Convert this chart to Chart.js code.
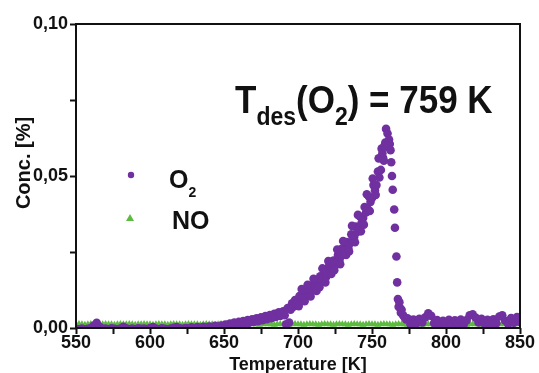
<!DOCTYPE html>
<html>
<head>
<meta charset="utf-8">
<script src="https://cdn.jsdelivr.net/npm/chart.js@4.4.1/dist/chart.umd.min.js"></script>
<style>
  html, body { margin: 0; padding: 0; background: #fff; }
</style>
</head>
<body>
<canvas id="tpd" width="539" height="373"></canvas>
<script>
// O2 desorption trace, concentration in %
const o2Temp = [
  550, 552, 554, 556, 558, 560, 562, 564, 566, 568,
  570, 572, 574, 576, 578, 580, 582, 584, 586, 588,
  590, 592, 594, 596, 598, 600, 602, 604, 606, 608,
  610, 612, 614, 616, 618, 620, 622, 624, 626, 628,
  630, 632, 634, 636, 638, 640, 642, 644, 646, 648,
  650, 651, 652, 653, 654, 655, 656, 657, 658, 659,
  660, 661, 662, 663, 664, 665, 666, 667, 668, 669,
  670, 671, 672, 673, 674, 675, 676, 677, 678, 679,
  680, 681, 682, 683, 684, 685, 686, 687, 688, 689,
  690, 691, 692, 693, 694, 695, 696, 697, 698, 699,
  700, 701, 702, 703, 704, 705, 706, 707, 708, 709,
  710, 711, 712, 713, 714, 715, 716, 717, 718, 719,
  720, 721, 722, 723, 724, 725, 726, 727, 728, 729,
  730, 731, 732, 733, 734, 735, 736, 737, 738, 739,
  740, 741, 742, 743, 744, 745, 746, 747, 748, 749,
  750, 751, 752, 753, 754, 755, 756, 757, 758, 759,
  759.5, 760, 760.5, 761, 761.5, 762, 762.5, 763, 763.5, 764,
  765, 765.5, 766.5, 767, 767.5, 768, 768.5, 769, 769.5, 770,
  771, 772, 773, 774, 776, 778, 780, 782, 784, 786,
  788, 790, 792, 794, 796, 798, 800, 802, 804, 806,
  808, 810, 812, 814, 816, 818, 820, 822, 824, 826,
  828, 830, 832, 834, 836, 838, 840, 842, 844, 846,
  848, 850,
  // scattered points between the main readings on the rising flank
  700.5, 702.5, 704.5, 706.5, 708.5, 710.5, 712.5, 714.5, 716.5, 718.5,
  720.5, 722.5, 724.5, 726.5, 728.5, 730.5, 732.5, 734.5, 736.5, 738.5,
  740.5, 742.5, 744.5, 746.5, 748.5, 750.5, 752.5, 754.5, 756.5, 757.5,
  758.5
];
const o2Conc = [
  -0.0003, -0.0004, -0.0002, -0.0005, -0.0003, 0.0000, 0.0008, 0.0017, 0.0004, -0.0003,
  -0.0002, -0.0004, -0.0001, -0.0003, -0.0005, -0.0002, 0.0004, -0.0001, -0.0004, -0.0002,
  -0.0004, -0.0001, -0.0003, -0.0002, -0.0004, 0.0000, 0.0003, -0.0002, -0.0004, -0.0001,
  -0.0003, -0.0005, -0.0002, 0.0001, 0.0003, -0.0001, -0.0003, 0.0000, -0.0002, 0.0002,
  -0.0001, 0.0003, 0.0000, 0.0004, 0.0001, 0.0005, 0.0002, 0.0007, 0.0004, 0.0008,
  0.0006, 0.0011, 0.0005, 0.0009, 0.0015, 0.0008, 0.0012, 0.0018, 0.0010, 0.0014,
  0.0020, 0.0012, 0.0017, 0.0023, 0.0015, 0.0019, 0.0026, 0.0017, 0.0022, 0.0029,
  0.0020, 0.0025, 0.0032, 0.0022, 0.0028, 0.0035, 0.0026, 0.0031, 0.0039, 0.0029,
  0.0034, 0.0043, 0.0032, 0.0038, 0.0047, 0.0036, 0.0041, 0.0052, 0.0040, 0.0046,
  0.0055, 0.0042, 0.0012, 0.0066, 0.0018, 0.0060, 0.0081, 0.0070, 0.0092, 0.0078,
  0.0086, 0.0105, 0.0090, 0.0098, 0.0118, 0.0102, 0.0125, 0.0110, 0.0121, 0.0140,
  0.0124, 0.0133, 0.0156, 0.0138, 0.0150, 0.0170, 0.0152, 0.0164, 0.0185, 0.0168,
  0.0178, 0.0203, 0.0186, 0.0199, 0.0222, 0.0205, 0.0214, 0.0240, 0.0222, 0.0236,
  0.0262, 0.0243, 0.0255, 0.0283, 0.0264, 0.0278, 0.0308, 0.0288, 0.0300, 0.0334,
  0.0316, 0.0330, 0.0366, 0.0346, 0.0362, 0.0398, 0.0380, 0.0392, 0.0432, 0.0415,
  0.0428, 0.0470, 0.0452, 0.0470, 0.0515, 0.0495, 0.0520, 0.0575, 0.0550, 0.0610,
  0.0655, 0.0600, 0.0640, 0.0595, 0.0620, 0.0605, 0.0585, 0.0545, 0.0500, 0.0455,
  0.0390, 0.0330, 0.0235, 0.0150, 0.0095, 0.0070, 0.0085, 0.0065, 0.0050, 0.0060,
  0.0042, 0.0035, 0.0028, 0.0032, 0.0012, 0.0028, 0.0015, 0.0030, 0.0018, 0.0035,
  0.0048, 0.0040, 0.0016, 0.0026, 0.0010, 0.0024, 0.0013, 0.0027, 0.0011, 0.0025,
  0.0014, 0.0028, 0.0012, 0.0026, 0.0042, 0.0045, 0.0034, 0.0018, 0.0030, 0.0014,
  0.0027, 0.0012, 0.0029, 0.0016, 0.0038, 0.0042, 0.0024, 0.0013, 0.0033, 0.0017,
  0.0036, 0.0020,
  0.0072, 0.0128, 0.0088, 0.0142, 0.0104, 0.0162, 0.0122, 0.0134, 0.0196, 0.0150,
  0.0220, 0.0178, 0.0190, 0.0258, 0.0210, 0.0286, 0.0240, 0.0252, 0.0336, 0.0282,
  0.0372, 0.0318, 0.0340, 0.0440, 0.0385, 0.0492, 0.0438, 0.0558, 0.0590, 0.0560,
  0.0600
];

// NO trace, every 2 K from 550 to 850
const noTemp = [
  550, 552, 554, 556, 558, 560, 562, 564, 566, 568, 570, 572, 574, 576, 578, 580,
  582, 584, 586, 588, 590, 592, 594, 596, 598, 600, 602, 604, 606, 608, 610, 612,
  614, 616, 618, 620, 622, 624, 626, 628, 630, 632, 634, 636, 638, 640, 642, 644,
  646, 648, 650, 652, 654, 656, 658, 660, 662, 664, 666, 668, 670, 672, 674, 676,
  678, 680, 682, 684, 686, 688, 690, 692, 694, 696, 698, 700, 702, 704, 706, 708,
  710, 712, 714, 716, 718, 720, 722, 724, 726, 728, 730, 732, 734, 736, 738, 740,
  742, 744, 746, 748, 750, 752, 754, 756, 758, 760, 762, 764, 766, 768, 770, 772,
  774, 776, 778, 780, 782, 784, 786, 788, 790, 792, 794, 796, 798, 800, 802, 804,
  806, 808, 810, 812, 814, 816, 818, 820, 822, 824, 826, 828, 830, 832, 834, 836,
  838, 840, 842, 844, 846, 848, 850
];
const noConc = [
  0.0012, 0.0013, 0.0012, 0.0011, 0.0012, 0.0013, 0.0012, 0.0012, 0.0011, 0.0012, 0.0013, 0.0012, 0.0012, 0.0011, 0.0012, 0.0013,
  0.0012, 0.0012, 0.0013, 0.0012, 0.0011, 0.0012, 0.0012, 0.0013, 0.0012, 0.0012, 0.0011, 0.0012, 0.0013, 0.0012, 0.0012, 0.0011,
  0.0012, 0.0013, 0.0012, 0.0012, 0.0011, 0.0012, 0.0013, 0.0012, 0.0012, 0.0012, 0.0011, 0.0012, 0.0013, 0.0012, 0.0012, 0.0011,
  0.0012, 0.0013, 0.0012, 0.0012, 0.0011, 0.0012, 0.0013, 0.0012, 0.0012, 0.0011, 0.0012, 0.0013, 0.0012, 0.0012, 0.0011, 0.0012,
  0.0013, 0.0012, 0.0012, 0.0011, 0.0012, 0.0013, 0.0012, 0.0012, 0.0011, 0.0012, 0.0013, 0.0012, 0.0012, 0.0011, 0.0012, 0.0013,
  0.0012, 0.0012, 0.0011, 0.0012, 0.0013, 0.0012, 0.0012, 0.0011, 0.0012, 0.0013, 0.0012, 0.0012, 0.0011, 0.0012, 0.0013, 0.0012,
  0.0012, 0.0011, 0.0012, 0.0013, 0.0012, 0.0012, 0.0011, 0.0012, 0.0013, 0.0012, 0.0012, 0.0011, 0.0012, 0.0013, 0.0012, 0.0012,
  0.0011, 0.0012, 0.0013, 0.0012, 0.0012, 0.0011, 0.0012, 0.0013, 0.0012, 0.0012, 0.0011, 0.0012, 0.0013, 0.0012, 0.0012, 0.0011,
  0.0012, 0.0013, 0.0012, 0.0012, 0.0011, 0.0012, 0.0013, 0.0012, 0.0012, 0.0011, 0.0012, 0.0013, 0.0012, 0.0012, 0.0011, 0.0012,
  0.0013, 0.0012, 0.0012, 0.0011, 0.0012, 0.0013, 0.0012
];

const xTickValues = [550, 600, 650, 700, 750, 800, 850];
const yTickValues = [0, 0.05, 0.10];
const yTickLabels = ['0,00', '0,05', '0,10'];

const o2Label = ['O', '2'];
const noLabel = ['NO', ''];
const peakNote = [['T', 'big'], ['des', 'sub'], ['(O', 'big'], ['2', 'sub'], [') = 759 K', 'big']];

const INK = '#111';
const PURPLE = '#7030a0';
const GREEN = '#5dbb3f';
const FAMILY = '"Liberation Sans", Arial, sans-serif';

function pairs(xs, ys) {
  return xs.map((x, i) => ({ x: x, y: ys[i] }));
}

function drawRuns(ctx, runs, x, base, sizes, sy) {
  runs.forEach(([text, kind]) => {
    const s = sizes[kind];
    ctx.font = 'bold ' + s.px + 'px ' + FAMILY;
    ctx.save();
    ctx.translate(x, base + s.dy);
    ctx.scale(1, sy);
    ctx.fillText(text, 0, 0);
    ctx.restore();
    x += ctx.measureText(text).width;
  });
}

const overlay = {
  id: 'overlay',
  afterDatasetsDraw(chart) {
    const ctx = chart.ctx;
    const a = chart.chartArea;
    ctx.save();
    // frame
    ctx.strokeStyle = INK;
    ctx.lineWidth = 2;
    ctx.strokeRect(a.left, a.top, a.right - a.left, a.bottom - a.top);

    ctx.fillStyle = INK;
    ctx.textBaseline = 'alphabetic';

    // axis titles
    ctx.textAlign = 'center';
    ctx.font = 'bold 18px ' + FAMILY;
    ctx.fillText('Temperature [K]', (a.left + a.right) / 2, 370);
    ctx.save();
    ctx.translate(30, 163);
    ctx.rotate(-Math.PI / 2);
    ctx.font = 'bold 20px ' + FAMILY;
    ctx.fillText('Conc. [%]', 0, 0);
    ctx.restore();

    // legend
    ctx.textAlign = 'left';
    ctx.fillStyle = PURPLE;
    ctx.beginPath();
    ctx.arc(131, 175, 3.2, 0, Math.PI * 2);
    ctx.fill();
    ctx.fillStyle = GREEN;
    ctx.beginPath();
    ctx.moveTo(130, 214);
    ctx.lineTo(134, 221);
    ctx.lineTo(126, 221);
    ctx.closePath();
    ctx.fill();
    ctx.fillStyle = INK;
    const legSizes = { big: { px: 25, dy: 0 }, sub: { px: 14, dy: 9 } };
    drawRuns(ctx, [[o2Label[0], 'big'], [o2Label[1], 'sub']], 169, 188, legSizes, 1.05);
    drawRuns(ctx, [[noLabel[0], 'big']], 172, 229, legSizes, 1.05);

    // peak temperature note
    const noteSizes = { big: { px: 35, dy: 0 }, sub: { px: 23, dy: 12 } };
    drawRuns(ctx, peakNote, 235, 113, noteSizes, 1.1);
    ctx.restore();
  }
};

new Chart(document.getElementById('tpd').getContext('2d'), {
  type: 'scatter',
  data: {
    datasets: [
      {
        label: 'O2',
        data: pairs(o2Temp, o2Conc),
        backgroundColor: PURPLE,
        borderWidth: 0,
        pointRadius: 4.3,
        pointStyle: 'circle',
        clip: 0
      },
      {
        label: 'NO',
        data: pairs(noTemp, noConc),
        backgroundColor: GREEN,
        borderWidth: 0,
        pointRadius: 4,
        pointStyle: 'triangle',
        clip: 0
      }
    ]
  },
  options: {
    responsive: false,
    animation: false,
    layout: { padding: { top: 24, right: 19, left: 0, bottom: 0 } },
    plugins: { legend: { display: false }, tooltip: { enabled: false } },
    scales: {
      x: {
        type: 'linear',
        min: 550,
        max: 850,
        afterFit: (s) => { s.height = 45; },
        border: { display: false },
        grid: { drawOnChartArea: false, drawTicks: true, tickLength: 6, tickWidth: 2, tickColor: INK },
        ticks: {
          stepSize: 25,
          autoSkip: false,
          maxRotation: 0,
          padding: 0,
          color: INK,
          font: { family: FAMILY, size: 18, weight: 'bold', lineHeight: 1 },
          callback: (v) => (xTickValues.includes(v) ? String(v) : '')
        }
      },
      y: {
        min: 0,
        max: 0.1,
        afterFit: (s) => { s.width = 76; },
        border: { display: false },
        grid: { drawOnChartArea: false, drawTicks: true, tickLength: 6, tickWidth: 2, tickColor: INK },
        ticks: {
          stepSize: 0.025,
          autoSkip: false,
          padding: 2,
          color: INK,
          font: { family: FAMILY, size: 18, weight: 'bold' },
          callback: (v) => {
            const i = yTickValues.findIndex((t) => Math.abs(t - v) < 1e-9);
            return i >= 0 ? yTickLabels[i] : '';
          }
        }
      }
    }
  },
  plugins: [overlay]
});
</script>
</body>
</html>
